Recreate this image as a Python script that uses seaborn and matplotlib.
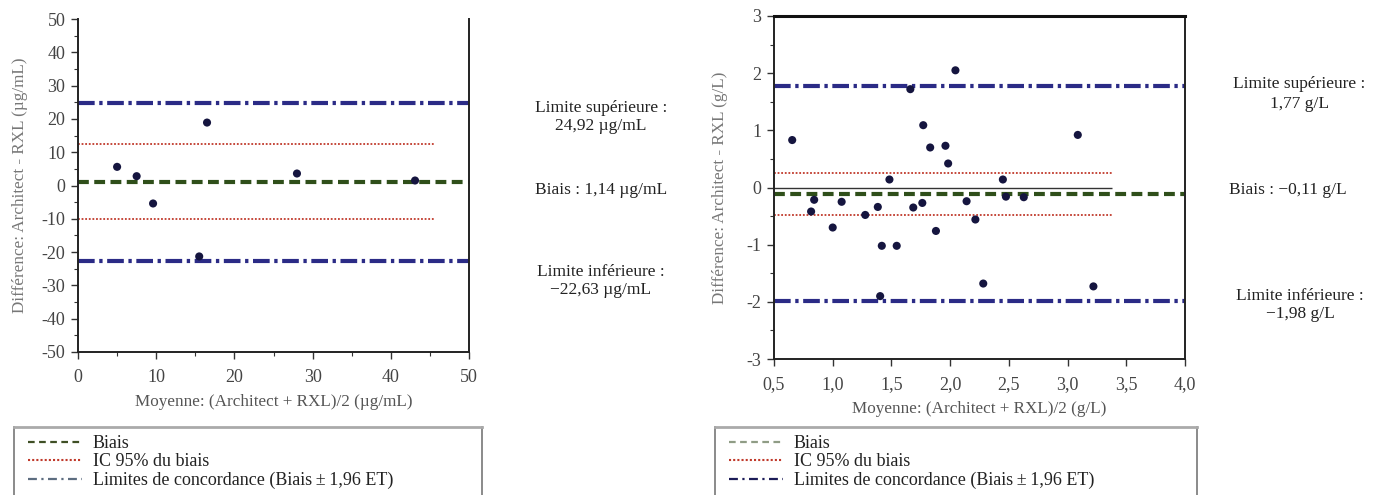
import matplotlib
matplotlib.use('Agg')
import matplotlib.pyplot as plt
import seaborn as sns
import pandas as pd
from matplotlib.lines import Line2D
from matplotlib.ticker import MultipleLocator, FuncFormatter

sns.set_theme(style='white')
plt.rcParams['font.family'] = ['Liberation Serif', 'DejaVu Serif']
plt.rcParams['axes.unicode_minus'] = False

# ---- data: left panel (µg/mL) ----
ug_mean = [5.0, 7.5, 9.6, 15.5, 16.5, 28.0, 43.1]
ug_diff = [5.6, 2.8, -5.4, -21.3, 18.9, 3.6, 1.5]
ug_bias = 1.14
ug_upper = 24.92
ug_lower = -22.63
ug_ci = [12.4, -10.2]
ug_ci_end = 45.5

# ---- data: right panel (g/L) ----
gl_mean = [0.655, 0.816, 0.842, 1.00, 1.076, 1.277, 1.384, 1.404, 1.418, 1.483,
           1.545, 1.661, 1.686, 1.763, 1.771, 1.830, 1.879, 1.960, 1.983, 2.045,
           2.140, 2.215, 2.282, 2.449, 2.475, 2.627, 3.087, 3.220]
gl_diff = [0.83, -0.42, -0.215, -0.70, -0.25, -0.48, -0.34, -1.90, -1.02, 0.14,
           -1.02, 1.72, -0.35, -0.27, 1.09, 0.70, -0.76, 0.73, 0.42, 2.05,
           -0.24, -0.56, -1.68, 0.14, -0.16, -0.17, 0.92, -1.73]
gl_bias = -0.11
gl_upper = 1.77
gl_lower = -1.98
gl_ci = [0.26, -0.48]
gl_ci_end = 3.38

legend_labels = ['Biais', 'IC 95% du biais', 'Limites de concordance (Biais\u2009\u00b1\u20091,96 ET)']

W, H = 1384, 495
fig = plt.figure(figsize=(W / 100, H / 100), dpi=100)

def fx(px):
    return px / W

def fy(py):
    return 1 - py / H

BLUE = '#2b2b86'
GREEN = '#2f4f1a'
RED = '#c0392b'
DOT = '#15153f'
LABEL = '#555555'

def panel(rect, mean, diff, bias, upper, lower, ci, ci_end, xlim, ylim, xmaj, xmin_, ymaj, ymin_,
          xlabel, ylabel, comma, top_spine, ylabelpad, zero_end=None):
    ax = fig.add_axes(rect)
    df = pd.DataFrame({'m': mean, 'd': diff})
    for lim in (upper, lower):
        ax.axhline(lim, color=BLUE, lw=3, dashes=(4, 1.1, 0.8, 1.1), zorder=2)
    ax.axhline(bias, color=GREEN, lw=3, dashes=(2.6, 1.3), zorder=2)
    if zero_end is not None:
        ax.hlines(0, xlim[0], zero_end, color='#333333', lw=1.0, zorder=1)
    for c in ci:
        ax.hlines(c, xlim[0], ci_end, color=RED, lw=1.3, linestyles=(0, (1, 1)), zorder=2)
    sns.scatterplot(data=df, x='m', y='d', ax=ax, color=DOT, s=34, edgecolor='none', zorder=3)
    ax.set_xlim(*xlim)
    ax.set_ylim(*ylim)
    ax.xaxis.set_major_locator(MultipleLocator(xmaj))
    ax.yaxis.set_major_locator(MultipleLocator(ymaj))
    if xmin_:
        ax.xaxis.set_minor_locator(MultipleLocator(xmin_))
    if ymin_:
        ax.yaxis.set_minor_locator(MultipleLocator(ymin_))
    if comma:
        ax.xaxis.set_major_formatter(FuncFormatter(lambda v, p: f'{v:.1f}'.replace('.', ',')))
    ax.tick_params(axis='both', which='major', direction='out', length=5, width=1,
                   labelsize=13, colors='#333333', labelcolor='#444444', pad=4,
                   bottom=True, left=True)
    ax.tick_params(axis='x', which='major', pad=7)
    ax.tick_params(axis='both', which='minor', direction='out', length=3, width=0.8,
                   colors='#333333', bottom=True, left=True)
    ax.set_xlabel(xlabel, fontsize=12.3, color=LABEL, labelpad=6)
    ax.set_ylabel(ylabel, fontsize=12.3, color='#777777', labelpad=ylabelpad)
    for s in ['left', 'bottom', 'right']:
        ax.spines[s].set_color('#222222')
        ax.spines[s].set_linewidth(1.4)
    if top_spine:
        ax.spines['top'].set_color('#111111')
        ax.spines['top'].set_linewidth(2.2)
    else:
        ax.spines['top'].set_visible(False)
    ax.set_facecolor('white')
    return ax

ax1 = panel([fx(78), fy(352), fx(469 - 78), (352 - 19) / H], ug_mean, ug_diff, ug_bias, ug_upper,
            ug_lower, ug_ci, ug_ci_end, (0, 50), (-50, 50), 10, 5, 10, 5,
            'Moyenne: (Architect + RXL)/2 (\u00b5g/mL)', 'Différence: Architect - RXL (\u00b5g/mL)',
            False, False, 10)
ax2 = panel([fx(774), fy(359), fx(1185 - 774), (359 - 16) / H], gl_mean, gl_diff, gl_bias, gl_upper,
            gl_lower, gl_ci, gl_ci_end, (0.5, 4.0), (-3, 3), 0.5, None, 1, 0.5,
            'Moyenne: (Architect + RXL)/2 (g/L)', 'Différence: Architect - RXL (g/L)',
            True, True, 13, zero_end=gl_ci_end)

# annotations
ann_kw = dict(ha='center', va='center', fontsize=12.5, color='#222222', linespacing=1.25)
fig.text(fx(601), fy(117), f'Limite supérieure :\n{ug_upper:.2f} \u00b5g/mL'.replace('.', ','), **ann_kw)
fig.text(fx(601), fy(190), f'Biais : {ug_bias:.2f} \u00b5g/mL'.replace('.', ','), **ann_kw)
fig.text(fx(601), fy(281), f'Limite inférieure :\n\u2212{abs(ug_lower):.2f} \u00b5g/mL'.replace('.', ','), **ann_kw)
fig.text(fx(1299), fy(94), f'Limite supérieure :\n{gl_upper:.2f} g/L'.replace('.', ','), **ann_kw)
fig.text(fx(1288), fy(190), f'Biais : \u2212{abs(gl_bias):.2f} g/L'.replace('.', ','), **ann_kw)
fig.text(fx(1300), fy(305), f'Limite inférieure :\n\u2212{abs(gl_lower):.2f} g/L'.replace('.', ','), **ann_kw)

# legend boxes
def legend_box(x0, x1, green, blue):
    lax = fig.add_axes([fx(x0), -0.05, fx(x1 - x0), (495 - 427) / H + 0.05])
    lax.set_xticks([])
    lax.set_yticks([])
    lax.set_facecolor('white')
    for s in ['left', 'right']:
        lax.spines[s].set_color('#777777')
        lax.spines[s].set_linewidth(1.2)
    lax.spines['top'].set_color('#aaaaaa')
    lax.spines['top'].set_linewidth(2)
    lax.spines['bottom'].set_visible(False)
    handles = [
        Line2D([], [], color=green, lw=1.6, dashes=(3, 2)),
        Line2D([], [], color=RED, lw=1.5, linestyle=(0, (1, 1))),
        Line2D([], [], color=blue, lw=1.6, dashes=(4, 2, 1, 2)),
    ]
    fig.legend(handles, legend_labels, loc='upper left',
               bbox_to_anchor=(fx(x0 + 14), fy(435)), bbox_transform=fig.transFigure,
               frameon=False, fontsize=13, handlelength=3.0, handletextpad=0.6,
               labelspacing=0.08, borderpad=0, borderaxespad=0, labelcolor='#222222')

legend_box(14, 482, '#3f4f25', '#5d6d80')
legend_box(715, 1197, '#8f9c85', '#1c1c58')

fig.savefig('out.png', dpi=100, facecolor='white')
